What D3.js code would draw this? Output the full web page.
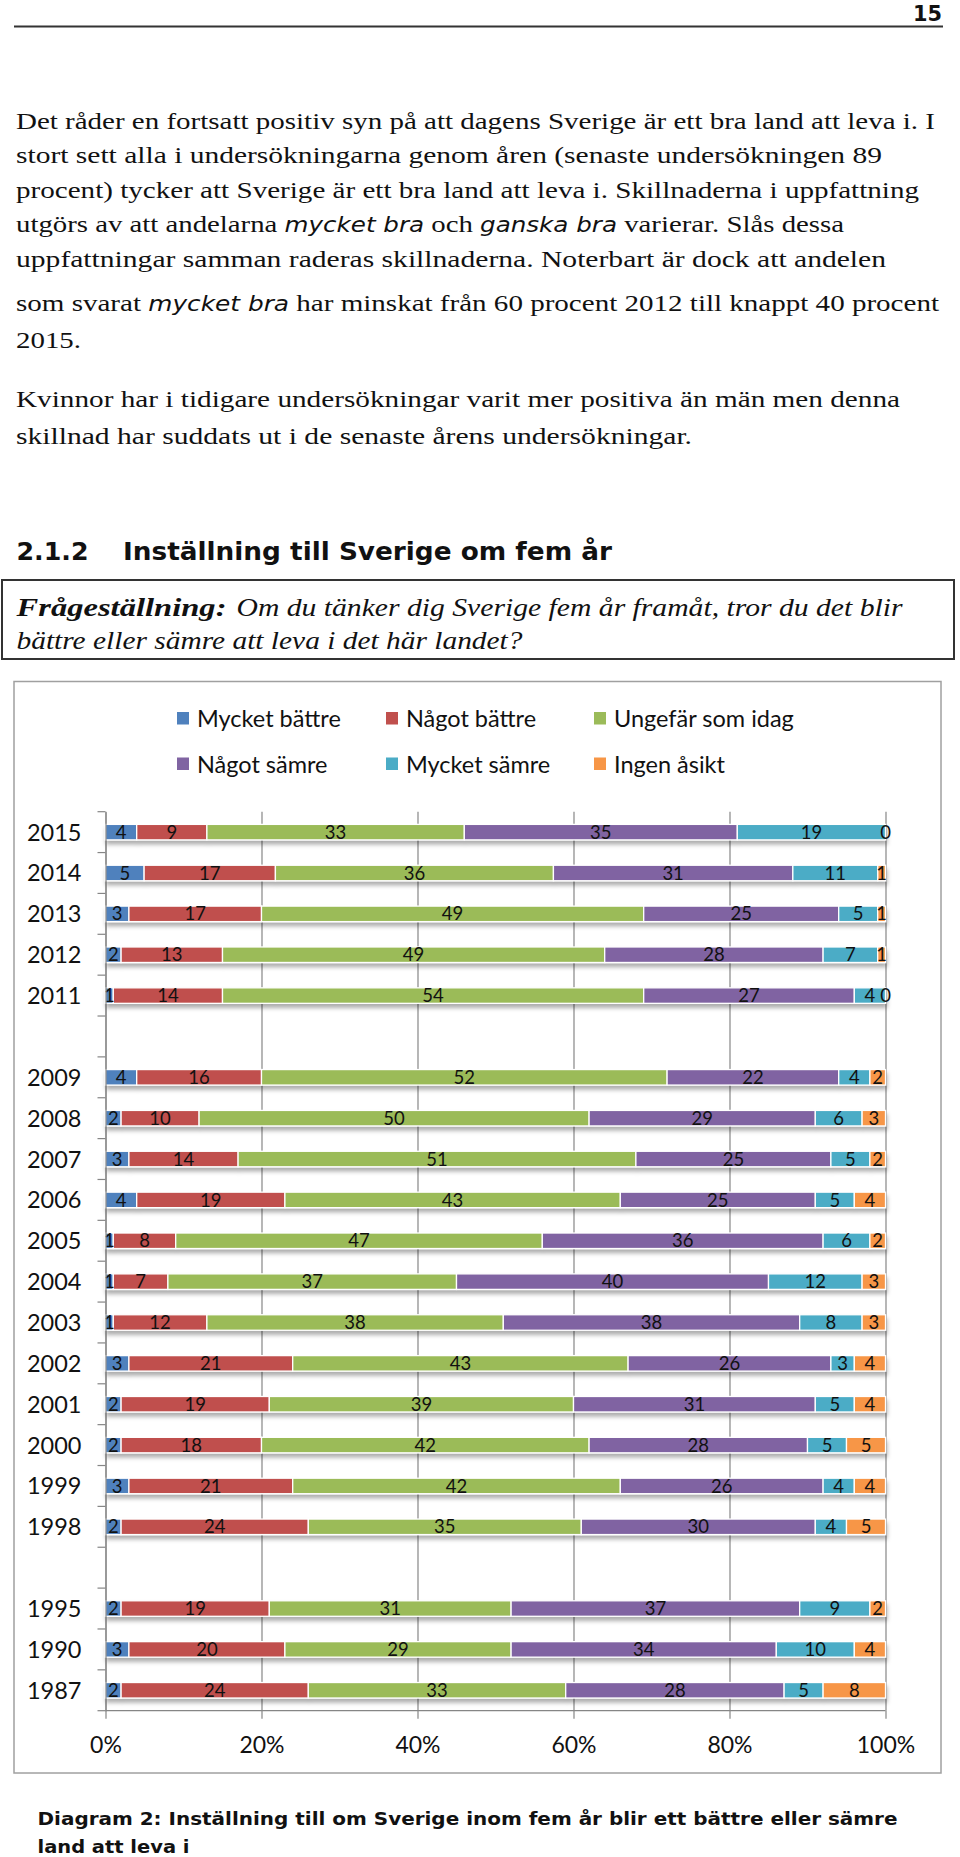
<!DOCTYPE html>
<html><head><meta charset="utf-8">
<script src="https://cdn.jsdelivr.net/npm/d3@7"></script>
<style>body{margin:0;background:#fff} svg{display:block} text{white-space:pre}</style>
</head><body>
<script>
// ---------- DATA ----------
const years = ["2015","2014","2013","2012","2011","","2009","2008","2007","2006","2005","2004","2003","2002","2001","2000","1999","1998","","1995","1990","1987"];
const seriesNames = ["Mycket bättre","Något bättre","Ungefär som idag","Något sämre","Mycket sämre","Ingen åsikt"];
const mycketBattre = [4,5,3,2,1,null,4,2,3,4,1,1,1,3,2,2,3,2,null,2,3,2];
const nagotBattre  = [9,17,17,13,14,null,16,10,14,19,8,7,12,21,19,18,21,24,null,19,20,24];
const ungefarSomIdag = [33,36,49,49,54,null,52,50,51,43,47,37,38,43,39,42,42,35,null,31,29,33];
const nagotSamre   = [35,31,25,28,27,null,22,29,25,25,36,40,38,26,31,28,26,30,null,37,34,28];
const mycketSamre  = [19,11,5,7,4,null,4,6,5,5,6,12,8,3,5,5,4,4,null,9,10,5];
const ingenAsikt   = [0,1,1,1,0,null,2,3,2,4,2,3,3,4,4,5,4,5,null,2,4,8];
const colors = ["#4F81BD","#C0504D","#9BBB59","#8064A2","#4BACC6","#F79646"];
const xTickValues = [0,0.2,0.4,0.6,0.8,1];

// ---------- PAGE TEXT ----------
const para1 = [
 [["Det råder en fortsatt positiv syn på att dagens Sverige är ett bra land att leva i. I"]],
 [["stort sett alla i undersökningarna genom åren (senaste undersökningen 89"]],
 [["procent) tycker att Sverige är ett bra land att leva i. Skillnaderna i uppfattning"]],
 [["utgörs av att andelarna "],["mycket bra","i"],[" och "],["ganska bra","i"],[" varierar. Slås dessa"]],
 [["uppfattningar samman raderas skillnaderna. Noterbart är dock att andelen"]],
 [["som svarat "],["mycket bra","i"],[" har minskat från 60 procent 2012 till knappt 40 procent"]],
 [["2015."]]
];
const para1Widths = [919,866,903,828,870,923,65];
const para1Base = [128.5,163,197.5,232,266.5,311,348];
const para2 = [
 [["Kvinnor har i tidigare undersökningar varit mer positiva än män men denna"]],
 [["skillnad har suddats ut i de senaste årens undersökningar."]]
];
const para2Widths = [884,676];
const para2Base = [406.5,444];

const svg = d3.select("body").append("svg").attr("width",960).attr("height",1857);
const defs = svg.append("defs");
const f = defs.append("filter").attr("id","sh").attr("x","-5%").attr("y","-50%").attr("width","110%").attr("height","250%");
f.append("feDropShadow").attr("dx",1).attr("dy",4).attr("stdDeviation",2.2).attr("flood-color","#000").attr("flood-opacity",0.32);

// header
svg.append("text").attr("x",942).attr("y",21).attr("text-anchor","end")
  .attr("font-family","DejaVu Sans").attr("font-weight","bold").attr("font-size",22).attr("fill","#111")
  .attr("textLength",29).attr("lengthAdjust","spacingAndGlyphs").text("15");
svg.append("line").attr("x1",14).attr("x2",943).attr("y1",26.5).attr("y2",26.5).attr("stroke","#333").attr("stroke-width",2);

function richLine(runs, x, y, w, base) {
  const t = svg.append("text").attr("x",x).attr("y",y).attr("fill","#111")
    .attr("font-family",base.family).attr("font-size",base.size)
    .attr("textLength",w).attr("lengthAdjust","spacingAndGlyphs");
  runs.forEach(r => {
    const ts = t.append("tspan").text(r[0]);
    if (r[1]==="i") ts.attr("font-family","DejaVu Sans").attr("font-style","italic").attr("font-size",base.size-3.5);
    if (r[1]==="bi") ts.attr("font-weight","bold").attr("font-style","italic");
    if (r[1]==="it") ts.attr("font-style","italic");
  });
  return t;
}
const serif = {family:"Liberation Serif", size:24};
const serifQ = {family:"Liberation Serif", size:25.5};
para1.forEach((ln,i)=>richLine(ln,16,para1Base[i],para1Widths[i],serif));
para2.forEach((ln,i)=>richLine(ln,16,para2Base[i],para2Widths[i],serif));

// heading
svg.append("text").attr("x",16.5).attr("y",560).attr("font-family","DejaVu Sans").attr("font-weight","bold")
  .attr("font-size",25).attr("fill","#111").attr("textLength",72).attr("lengthAdjust","spacingAndGlyphs").text("2.1.2");
svg.append("text").attr("x",123).attr("y",560).attr("font-family","DejaVu Sans").attr("font-weight","bold")
  .attr("font-size",25).attr("fill","#111").attr("textLength",489).attr("lengthAdjust","spacingAndGlyphs").text("Inställning till Sverige om fem år");

// question box
svg.append("rect").attr("x",2).attr("y",580).attr("width",952).attr("height",79).attr("fill","none").attr("stroke","#333").attr("stroke-width",2);
richLine([["Frågeställning:","bi"]],16.5,616,210,serifQ);
richLine([["Om du tänker dig Sverige fem år framåt, tror du det blir","it"]],236.5,616,666,serifQ);
richLine([["bättre eller sämre att leva i det här landet?","it"]],16.5,648.5,506,serifQ);

// chart frame
svg.append("rect").attr("x",14).attr("y",681.5).attr("width",927).attr("height",1091.5).attr("fill","#fff").attr("stroke","#a0a0a0").attr("stroke-width",1.5);

// ---------- CHART ----------
const plotTop = 811.7, plotBottom = 1710.7, plotLeft = 105.5, plotRight = 885.5;
const rows = years.map((yr,i)=>({key:"c"+i, label:yr,
  vals:[mycketBattre[i],nagotBattre[i],ungefarSomIdag[i],nagotSamre[i],mycketSamre[i],ingenAsikt[i]]}));
const y = d3.scaleBand().domain(rows.map(r=>r.key)).range([plotTop,plotBottom]).padding(0);
const x = d3.scaleLinear().domain([0,1]).range([plotLeft,plotRight]);
const labelOf = new Map(rows.map(r=>[r.key,r.label]));
const filled = rows.filter(r=>r.vals[0]!==null);
const stacked = d3.stack().keys(d3.range(6)).value((d,k)=>d.vals[k]).offset(d3.stackOffsetExpand)(filled);
const barH = 15.5;
const chartFont = "Lato, 'Open Sans', sans-serif";

// gridlines
svg.append("g").attr("transform",`translate(0,${plotBottom})`)
  .call(d3.axisBottom(x).tickValues(xTickValues).tickSize(-(plotBottom-plotTop)).tickFormat(""))
  .call(g=>g.select(".domain").remove())
  .call(g=>g.selectAll(".tick line").attr("stroke","#868686").attr("stroke-width",1.2));

// bars
const barsG = svg.append("g").attr("filter","url(#sh)");
barsG.selectAll("g.series").data(stacked).join("g").attr("class","series").attr("fill",(d,i)=>colors[i])
  .selectAll("rect").data(d=>d).join("rect")
  .attr("x",d=>x(d[0])).attr("width",d=>Math.max(0,x(d[1])-x(d[0])))
  .attr("y",d=>y(d.data.key)+y.bandwidth()/2-barH/2).attr("height",barH)
  .attr("stroke","#fff").attr("stroke-width",1.3);

// value labels
const lblG = svg.append("g").attr("font-family",chartFont).attr("font-size",18.5).attr("fill","#111").attr("text-anchor","middle");
stacked.forEach((s,k)=>{
  lblG.selectAll(null).data(s).join("text")
    .attr("x",d=>x((d[0]+d[1])/2))
    .attr("y",d=>y(d.data.key)+y.bandwidth()/2+6.6)
    .text(d=>d.data.vals[k]);
});

// y axis (labels + boundary ticks)
const yAx = svg.append("g").attr("transform",`translate(${plotLeft},0)`)
  .call(d3.axisLeft(y).tickSize(0).tickPadding(24).tickFormat(k=>labelOf.get(k)));
yAx.select(".domain").attr("stroke","#868686").attr("stroke-width",1.2);
yAx.selectAll(".tick text").attr("font-family",chartFont).attr("font-size",23.5).attr("fill","#111").attr("dy","0.36em");
const bounds = rows.map(r=>y(r.key)).concat([plotBottom]);
svg.append("g").selectAll("line").data(bounds).join("line")
  .attr("x1",plotLeft-8).attr("x2",plotLeft).attr("y1",d=>d).attr("y2",d=>d)
  .attr("stroke","#868686").attr("stroke-width",1.2);

// x axis
const xAx = svg.append("g").attr("transform",`translate(0,${plotBottom})`)
  .call(d3.axisBottom(x).tickValues(xTickValues).tickSize(8).tickPadding(18).tickFormat(d3.format(".0%")));
xAx.select(".domain").attr("stroke","#868686").attr("stroke-width",1.2).attr("d",`M${plotLeft},0H${plotRight}`);
xAx.selectAll(".tick line").attr("stroke","#868686").attr("stroke-width",1.2);
xAx.selectAll(".tick text").attr("font-family",chartFont).attr("font-size",23).attr("fill","#111");

// legend
const leg = svg.append("g").attr("font-family",chartFont).attr("font-size",23.5).attr("fill","#111");
const legCols = [177,386,594], legRows = [727,772.5];
seriesNames.forEach((n,i)=>{
  const cx = legCols[i%3], cy = legRows[Math.floor(i/3)];
  leg.append("rect").attr("x",cx).attr("y",cy-15).attr("width",12).attr("height",12.5).attr("fill",colors[i]);
  leg.append("text").attr("x",cx+20).attr("y",cy).text(n);
});

// caption
svg.append("text").attr("x",37.5).attr("y",1825).attr("font-family","DejaVu Sans").attr("font-weight","bold")
  .attr("font-size",18).attr("fill","#111").attr("textLength",860).attr("lengthAdjust","spacingAndGlyphs")
  .text("Diagram 2: Inställning till om Sverige inom fem år blir ett bättre eller sämre");
svg.append("text").attr("x",37.5).attr("y",1853).attr("font-family","DejaVu Sans").attr("font-weight","bold")
  .attr("font-size",18).attr("fill","#111").attr("textLength",152).attr("lengthAdjust","spacingAndGlyphs")
  .text("land att leva i");
</script>
</body></html>
